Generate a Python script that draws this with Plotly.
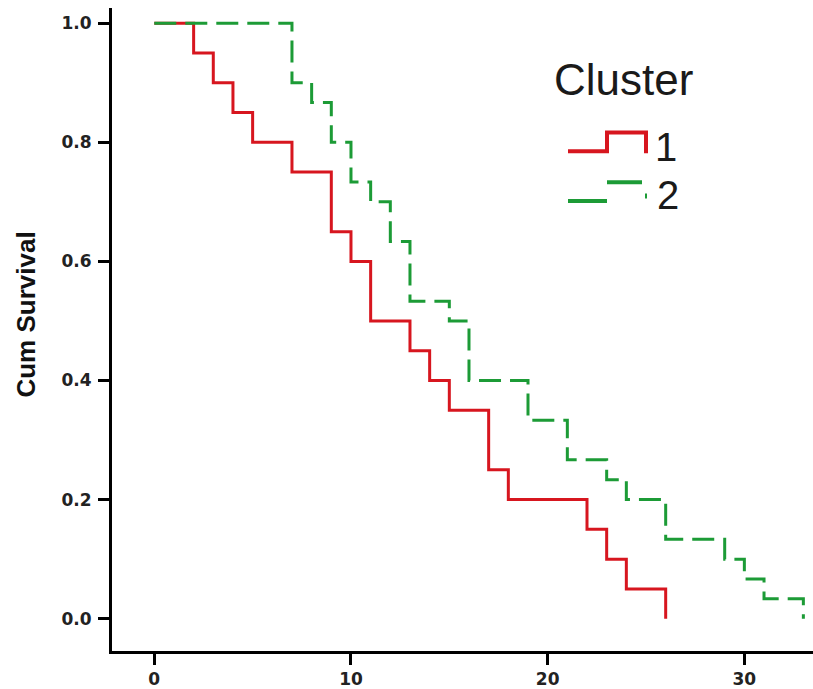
import plotly.graph_objects as go

# Kaplan-Meier style survival estimates
c1_time = [0, 2, 3, 4, 5, 7, 9, 10, 11, 13, 14, 15, 17, 18, 22, 23, 24, 26]
c1_surv = [1.0, 0.95, 0.90, 0.85, 0.80, 0.75, 0.65, 0.60, 0.50, 0.45, 0.40,
           0.35, 0.25, 0.20, 0.15, 0.10, 0.05, 0.0]

c2_time = [0, 7, 8, 9, 10, 11, 12, 13, 15, 16, 19, 21, 23, 24, 26, 29, 30, 31, 33]
c2_surv = [1.0, 0.9, 0.8667, 0.8, 0.7333, 0.7, 0.6333, 0.5333, 0.5, 0.4, 0.3333,
           0.2667, 0.2333, 0.2, 0.1333, 0.1, 0.0667, 0.0333, 0.0]

x_ticks = [0, 10, 20, 30]
y_ticks = [0.0, 0.2, 0.4, 0.6, 0.8, 1.0]
legend_title = "Cluster"
series_names = ["1", "2"]

RED = "#d7161f"
GREEN = "#1c9b36"

W, H = 813, 689
ML, MR, MT, MB = 112, 0, 8, 35
PW, PH = W - ML - MR, H - MT - MB


def px(x):
    return (x - ML) / PW


def py(y):
    return (H - MB - y) / PH


fig = go.Figure()
fig.add_trace(go.Scatter(x=c1_time, y=c1_surv, mode="lines", line_shape="hv",
                         name=series_names[0], showlegend=False,
                         line=dict(color=RED, width=3)))
fig.add_trace(go.Scatter(x=c2_time, y=c2_surv, mode="lines", line_shape="hv",
                         name=series_names[1], showlegend=False,
                         line=dict(color=GREEN, width=3, dash="22px,9px")))

tickfont = dict(family="DejaVu Sans", size=17, color="#222", weight="bold")

fig.update_xaxes(range=[-2.15, 33.49], tickvals=x_ticks, ticks="outside",
                 ticklen=11, tickwidth=3, tickcolor="black", showline=True,
                 linecolor="black", linewidth=3, showgrid=False, zeroline=False,
                 tickfont=tickfont)
fig.update_yaxes(range=[-0.0543, 1.0256], tickvals=y_ticks, tickformat=".1f",
                 ticks="outside", ticklen=11, tickwidth=3, tickcolor="black",
                 showline=True, linecolor="black", linewidth=3, showgrid=False,
                 zeroline=False, tickfont=tickfont, ticklabelstandoff=3)

# custom legend (step-shaped symbols as in the original)
shapes = [
    dict(type="path", xref="paper", yref="paper",
         path=f"M{px(568)},{py(152)} L{px(607)},{py(152)} L{px(607)},{py(133)} "
              f"L{px(646)},{py(133)} L{px(646)},{py(154)}",
         line=dict(color=RED, width=4)),
    dict(type="line", xref="paper", yref="paper",
         x0=px(568), x1=px(607), y0=py(202), y1=py(202),
         line=dict(color=GREEN, width=4)),
    dict(type="line", xref="paper", yref="paper",
         x0=px(607), x1=px(642), y0=py(183), y1=py(183),
         line=dict(color=GREEN, width=4)),
    dict(type="line", xref="paper", yref="paper",
         x0=px(645), x1=px(647), y0=py(197), y1=py(197),
         line=dict(color=GREEN, width=5)),
]

legend_font = dict(family="Liberation Sans, Arial, sans-serif", color="#1a1a1a")
annotations = [
    dict(text=legend_title, xref="paper", yref="paper", x=px(552), y=py(80),
         xanchor="left", yanchor="middle", showarrow=False,
         font=dict(size=44, **legend_font)),
    dict(text=series_names[0], xref="paper", yref="paper", x=px(653), y=py(148),
         xanchor="left", yanchor="middle", showarrow=False,
         font=dict(size=40, **legend_font)),
    dict(text=series_names[1], xref="paper", yref="paper", x=px(655), y=py(196),
         xanchor="left", yanchor="middle", showarrow=False,
         font=dict(size=40, **legend_font)),
    dict(text="Cum Survival", xref="paper", yref="paper", x=px(26), y=py(316),
         xanchor="center", yanchor="middle", textangle=-90, showarrow=False,
         font=dict(family="Liberation Sans, Arial, sans-serif", size=26,
                   color="#111", weight="bold")),
]

fig.update_layout(width=W, height=H, margin=dict(l=ML, r=MR, t=MT, b=MB),
                  plot_bgcolor="white", paper_bgcolor="white",
                  shapes=shapes, annotations=annotations, showlegend=False)

fig.write_html("out.html")
